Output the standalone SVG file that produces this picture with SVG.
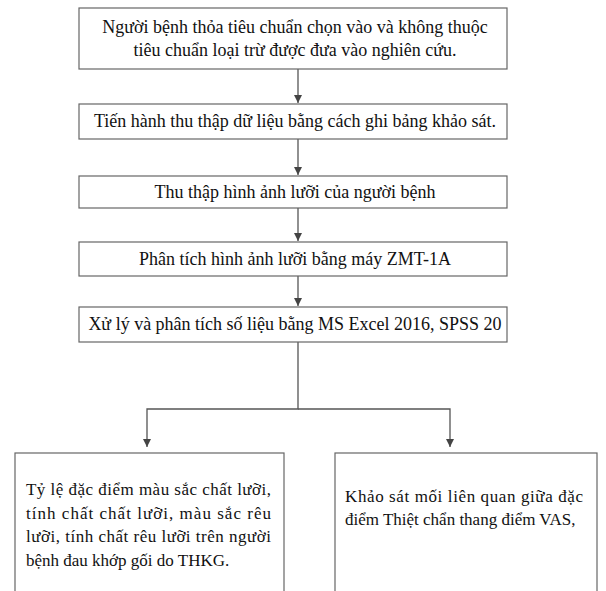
<svg xmlns="http://www.w3.org/2000/svg" width="606" height="591" viewBox="0 0 606 591">
<defs>
<marker id="ah" viewBox="0 0 10 10" refX="10" refY="5" markerWidth="8" markerHeight="8" markerUnits="userSpaceOnUse" orient="auto"><path d="M0,0 L10,5 L0,10 z" fill="#444"/></marker>
<style>
.box{fill:#fff;stroke:#666;stroke-width:1.2}
text{font-family:'Liberation Serif',serif;font-size:18px;fill:#111}
.s{font-size:17px}
.c{text-anchor:middle}
.ln{fill:none;stroke:#555;stroke-width:1.3}
</style>
</defs>
<rect width="606" height="591" fill="#fff"/>
<g id="connectors">
<path class="ln" d="M298,69 V103" marker-end="url(#ah)"/>
<path class="ln" d="M298,139 V175" marker-end="url(#ah)"/>
<path class="ln" d="M298,208 V241" marker-end="url(#ah)"/>
<path class="ln" d="M298,276 V306" marker-end="url(#ah)"/>
<path class="ln" d="M298,342 V409 H147 V447" marker-end="url(#ah)"/>
<path class="ln" d="M298,409 H450 V447" marker-end="url(#ah)"/>
</g>
<g id="n1"><rect class="box" x="79" y="8" width="428" height="61"/>
<text class="c" x="295" y="33">Người bệnh thỏa tiêu chuẩn chọn vào và không thuộc</text>
<text class="c" x="295" y="56">tiêu chuẩn loại trừ được đưa vào nghiên cứu.</text></g>
<g id="n2"><rect class="box" x="79" y="104" width="428" height="35"/>
<text class="c" x="295" y="127">Tiến hành thu thập dữ liệu bằng cách ghi bảng khảo sát.</text></g>
<g id="n3"><rect class="box" x="79" y="176" width="428" height="32"/>
<text class="c" x="295" y="198">Thu thập hình ảnh lưỡi của người bệnh</text></g>
<g id="n4"><rect class="box" x="79" y="242" width="428" height="34"/>
<text class="c" x="295" y="265">Phân tích hình ảnh lưỡi bằng máy ZMT-1A</text></g>
<g id="n5"><rect class="box" x="79" y="307" width="428" height="35"/>
<text class="c" x="295" y="330">Xử lý và phân tích số liệu bằng MS Excel 2016, SPSS 20</text></g>
<g id="n6"><rect class="box" x="15" y="453" width="269" height="160"/>
<text class="s" x="26" y="495" textLength="245" lengthAdjust="spacing">Tỷ lệ đặc điểm màu sắc chất lưỡi,</text>
<text class="s" x="26" y="519" textLength="245" lengthAdjust="spacing">tính chất chất lưỡi, màu sắc rêu</text>
<text class="s" x="26" y="542" textLength="245" lengthAdjust="spacing">lưỡi, tính chất rêu lưỡi trên người</text>
<text class="s" x="26" y="566">bệnh đau khớp gối do THKG.</text></g>
<g id="n7"><rect class="box" x="335" y="453" width="262" height="160"/>
<text class="s" x="345" y="502" textLength="238" lengthAdjust="spacing">Khảo sát mối liên quan giữa đặc</text>
<text class="s" x="345" y="525">điểm Thiệt chẩn thang điểm VAS,</text></g>
</svg>
